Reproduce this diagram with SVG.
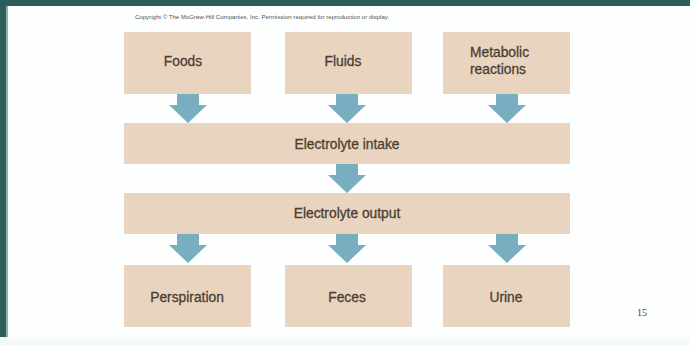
<svg xmlns="http://www.w3.org/2000/svg" width="690" height="345" viewBox="0 0 690 345">
<style>
.box{fill:#e9d5bf}
.arr{fill:#78aebf}
.lbl{font-family:"Liberation Sans",Arial,sans-serif;font-size:13.8px;fill:#4a3e34;text-anchor:middle;stroke:#4a3e34;stroke-width:0.3}
</style>
<defs>
<path id="arrow" d="M-11,0 H11 V11 H19 L0,29 L-19,11 H-11 Z"/>
</defs>
<rect x="0" y="0" width="690" height="345" fill="#fdfefe"/>
<rect x="0" y="0" width="690" height="6" fill="#2b5e5a"/>
<rect x="0" y="0" width="6" height="345" fill="#2b5e5a"/>
<rect x="6" y="6" width="2" height="339" fill="#8fb0ac"/>
<rect x="0" y="337" width="690" height="8" fill="#f4f9fa"/>
<text x="262" y="19" font-family="'Liberation Sans',Arial,sans-serif" font-size="6.1" fill="#555" text-anchor="middle">Copyright © The McGraw-Hill Companies, Inc. Permission required for reproduction or display.</text>
<g id="connectors">
<use href="#arrow" x="188" y="94" class="arr"/>
<use href="#arrow" x="347" y="94" class="arr"/>
<use href="#arrow" x="507" y="94" class="arr"/>
<use href="#arrow" x="347" y="164" class="arr"/>
<use href="#arrow" x="188" y="234" class="arr"/>
<use href="#arrow" x="347" y="234" class="arr"/>
<use href="#arrow" x="507" y="234" class="arr"/>
</g>
<g id="foods"><rect class="box" x="124" y="32" width="127" height="62"/><text class="lbl" x="183" y="66">Foods</text></g>
<g id="fluids"><rect class="box" x="285" y="32" width="127" height="62"/><text class="lbl" x="343" y="66">Fluids</text></g>
<g id="metabolic"><rect class="box" x="443" y="32" width="127" height="62"/><text class="lbl" x="470" y="57" style="text-anchor:start">Metabolic</text><text class="lbl" x="470" y="74" style="text-anchor:start">reactions</text></g>
<g id="intake"><rect class="box" x="124" y="123" width="446" height="41"/><text class="lbl" x="347" y="149">Electrolyte intake</text></g>
<g id="output"><rect class="box" x="124" y="193" width="446" height="41"/><text class="lbl" x="347" y="218">Electrolyte output</text></g>
<g id="perspiration"><rect class="box" x="124" y="265" width="127" height="62"/><text class="lbl" x="187" y="302">Perspiration</text></g>
<g id="feces"><rect class="box" x="285" y="265" width="127" height="62"/><text class="lbl" x="347" y="302">Feces</text></g>
<g id="urine"><rect class="box" x="443" y="265" width="127" height="62"/><text class="lbl" x="506" y="302">Urine</text></g>
<text x="642" y="316" font-family="'Liberation Serif','Times New Roman',serif" font-size="10" fill="#444" text-anchor="middle">15</text>
</svg>
